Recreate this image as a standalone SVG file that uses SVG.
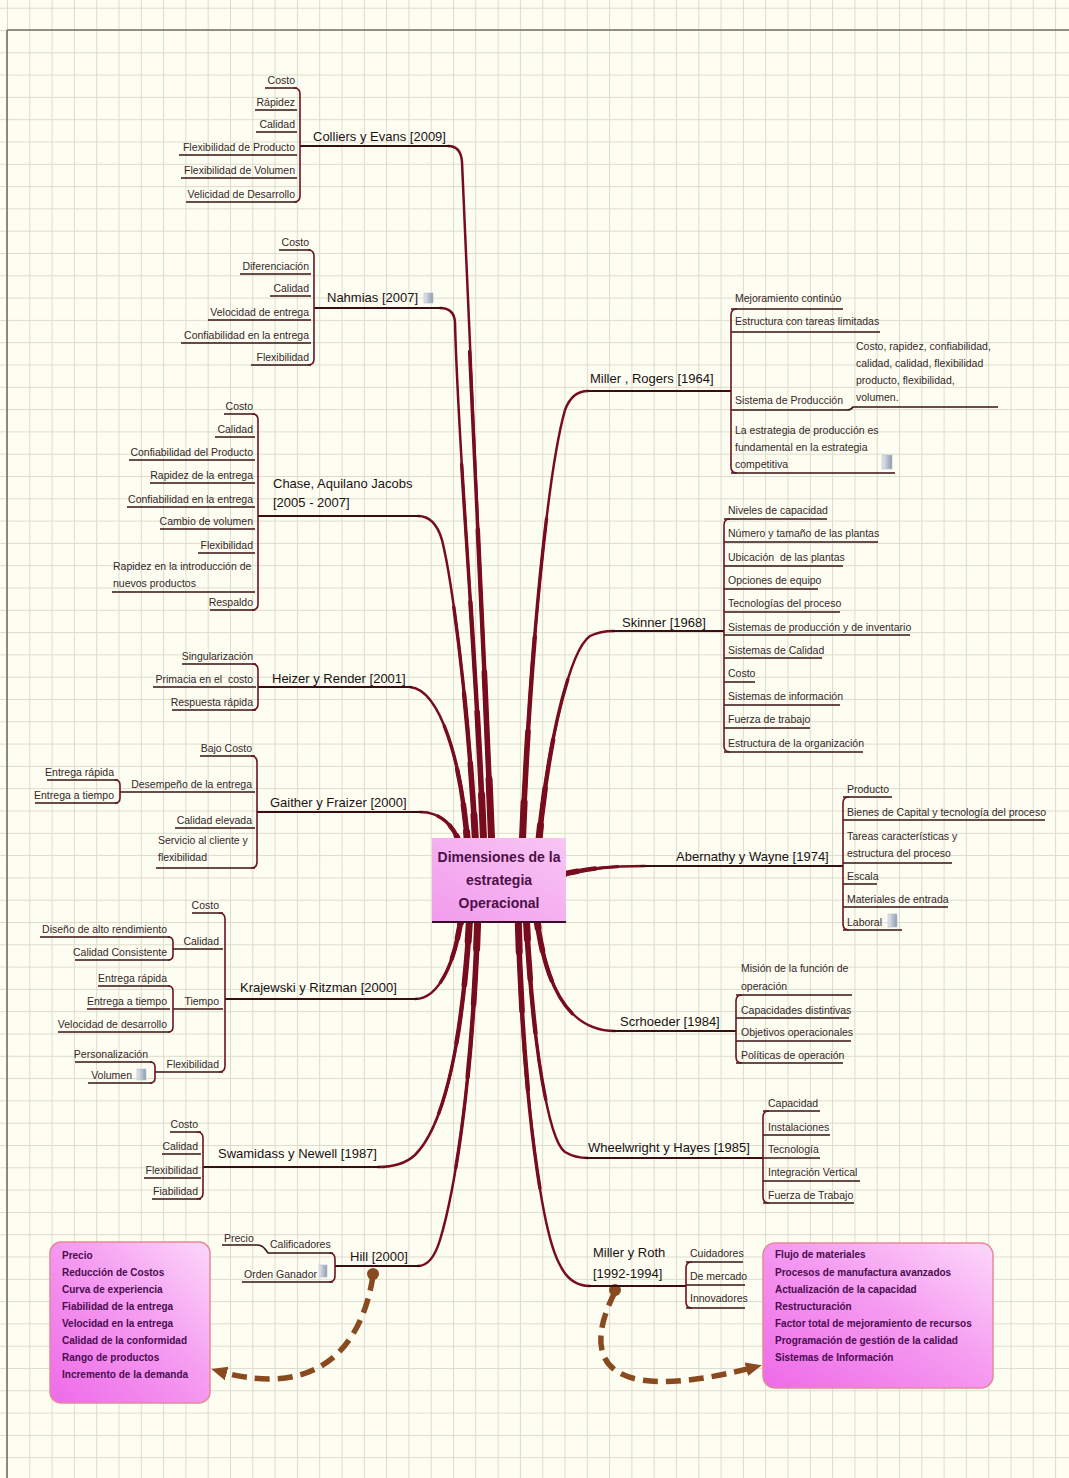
<svg xmlns="http://www.w3.org/2000/svg" width="1069" height="1478" viewBox="0 0 1069 1478">
  <defs>
    <pattern id="grid" width="22.3" height="22.3" patternUnits="userSpaceOnUse" x="7" y="30">
      <path d="M0 0.5 H22.3 M0.5 0 V22.3" fill="none" stroke="#dcdccd" stroke-width="1"/>
    </pattern>
    <linearGradient id="centerFill" x1="0" y1="1" x2="1" y2="0">
      <stop offset="0" stop-color="#f19bec"/>
      <stop offset="1" stop-color="#f8c6f4"/>
    </linearGradient>
    <linearGradient id="noteFill" x1="0" y1="1" x2="1" y2="0">
      <stop offset="0" stop-color="#ee6ae8"/>
      <stop offset="0.55" stop-color="#f59cf0"/>
      <stop offset="1" stop-color="#fcd8fa"/>
    </linearGradient>
    <linearGradient id="iconFill" x1="0" y1="0" x2="1" y2="0">
      <stop offset="0" stop-color="#e4e8f0"/>
      <stop offset="1" stop-color="#8f9bb0"/>
    </linearGradient>
    <marker id="arrow" markerUnits="userSpaceOnUse" markerWidth="16" markerHeight="16" viewBox="0 0 16 16" refX="9" refY="8" orient="auto">
      <path d="M0 1 L16 8 L0 15 Z" fill="#8a4a1f"/>
    </marker>
    <!-- main branches, each drawn from the central topic outwards; pathLength lets the taper scale per branch -->
    <path id="b1" pathLength="100" d="M492 850 C482 600 466 300 462 162 Q461 146 448 146"/>
    <path id="b2" pathLength="100" d="M484 850 C476 650 458 450 455 322 Q454 308 440 308"/>
    <path id="b3" pathLength="100" d="M476 850 C468 700 452 580 442 540 Q435 516 418 516"/>
    <path id="b4" pathLength="100" d="M468 850 C462 760 440 690 410 687"/>
    <path id="b5" pathLength="100" d="M462 850 C455 825 440 812 420 812"/>
    <path id="b6" pathLength="100" d="M522 850 C530 650 548 470 565 410 Q572 391 588 391"/>
    <path id="b7" pathLength="100" d="M538 850 C548 740 570 650 590 636 Q600 631 614 631"/>
    <path id="b8" pathLength="100" d="M555 876 C590 868 610 866 645 866"/>
    <path id="b9" pathLength="100" d="M462 912 C456 960 440 999 415 999"/>
    <path id="b10" pathLength="100" d="M470 912 C462 1060 440 1130 415 1155 Q402 1167 378 1167"/>
    <path id="b11" pathLength="100" d="M478 912 C472 1100 452 1200 440 1240 Q432 1266 418 1266"/>
    <path id="b12" pathLength="100" d="M536 912 C545 990 570 1031 615 1031"/>
    <path id="b13" pathLength="100" d="M526 912 C532 1040 548 1140 565 1152 Q575 1158 588 1158"/>
    <path id="b14" pathLength="100" d="M518 912 C522 1080 540 1230 560 1265 Q570 1286 590 1286"/>
  </defs>
  <style>
    /* a tapered branch = the same path stroked five times, wider strokes covering shorter stretches */
    .br { fill: none; stroke: #780b1e; stroke-linecap: round; }
    .w1 { stroke-width: 2.5; }
    .w2 { stroke-width: 3.4; stroke-dasharray: 70 1000; }
    .w3 { stroke-width: 4.4; stroke-dasharray: 45 1000; }
    .w4 { stroke-width: 5.6; stroke-dasharray: 25 1000; }
    .w5 { stroke-width: 7; stroke-dasharray: 10 1000; }
    .ul { fill: none; stroke: #3a1216; stroke-width: 1.6; }
    .tul { fill: none; stroke: #3a0d14; stroke-width: 2; }
    .bk { fill: none; stroke: #6c1322; stroke-width: 1.6; }
    .t { font-family: "Liberation Sans", Arial, sans-serif; font-size: 10.5px; fill: #352828; }
    .e { text-anchor: end; }
    .tp { font-family: "Liberation Sans", Arial, sans-serif; font-size: 13px; fill: #1a1212; }
    .nb { font-family: "Liberation Sans", Arial, sans-serif; font-size: 10px; font-weight: bold; fill: #4a0c50; }
    .tc { font-family: "Liberation Sans", Arial, sans-serif; font-size: 14px; font-weight: bold; fill: #4d0f48; text-anchor: middle; }
    .icon { fill: url(#iconFill); stroke: #b8c0cc; stroke-width: 0.6; }
    .note { fill: url(#noteFill); stroke: #e58a96; stroke-width: 1.5; }
    .rel { fill: none; stroke: #8a4a1f; stroke-width: 5.5; stroke-dasharray: 15 8; marker-end: url(#arrow); }
  </style>

  <!-- paper with grid -->
  <rect width="1069" height="1478" fill="#fdfdf2"/>
  <rect width="1069" height="1478" fill="url(#grid)"/>
  <path d="M7 30 H1069 M7 30 V1478" fill="none" stroke="#6f7268" stroke-width="1.6"/>

  <!-- connectors -->
  <g id="connectors">
    <g class="br w1"><use href="#b1"/><use href="#b2"/><use href="#b3"/><use href="#b4"/><use href="#b5"/><use href="#b6"/><use href="#b7"/><use href="#b8"/><use href="#b9"/><use href="#b10"/><use href="#b11"/><use href="#b12"/><use href="#b13"/><use href="#b14"/></g>
    <g class="br w2"><use href="#b1"/><use href="#b2"/><use href="#b3"/><use href="#b4"/><use href="#b5"/><use href="#b6"/><use href="#b7"/><use href="#b8"/><use href="#b9"/><use href="#b10"/><use href="#b11"/><use href="#b12"/><use href="#b13"/><use href="#b14"/></g>
    <g class="br w3"><use href="#b1"/><use href="#b2"/><use href="#b3"/><use href="#b4"/><use href="#b5"/><use href="#b6"/><use href="#b7"/><use href="#b8"/><use href="#b9"/><use href="#b10"/><use href="#b11"/><use href="#b12"/><use href="#b13"/><use href="#b14"/></g>
    <g class="br w4"><use href="#b1"/><use href="#b2"/><use href="#b3"/><use href="#b4"/><use href="#b5"/><use href="#b6"/><use href="#b7"/><use href="#b8"/><use href="#b9"/><use href="#b10"/><use href="#b11"/><use href="#b12"/><use href="#b13"/><use href="#b14"/></g>
    <g class="br w5"><use href="#b1"/><use href="#b2"/><use href="#b3"/><use href="#b4"/><use href="#b5"/><use href="#b6"/><use href="#b7"/><use href="#b8"/><use href="#b9"/><use href="#b10"/><use href="#b11"/><use href="#b12"/><use href="#b13"/><use href="#b14"/></g>
    <!-- dashed relationships to the note boxes -->
    <path class="rel" d="M373 1276 C362 1345 320 1400 218 1371"/>
    <path class="rel" d="M615 1292 C585 1350 590 1410 755 1367"/>
    <circle cx="373" cy="1274" r="6" fill="#8a4a1f"/>
    <circle cx="615" cy="1290" r="6" fill="#8a4a1f"/>
  </g>

  <!-- central topic -->
  <g id="central">
    <rect x="432" y="838" width="134" height="84" fill="url(#centerFill)"/>
    <path d="M432 922 H566" stroke="#3a0c28" stroke-width="2"/>
    <text class="tc" x="499" y="862">Dimensiones de la</text>
    <text class="tc" x="499" y="885">estrategia</text>
    <text class="tc" x="499" y="908">Operacional</text>
  </g>

  <!-- left side -->
  <g id="colliers">
    <text class="tp" x="313" y="141">Colliers y Evans [2009]</text>
    <path class="tul" d="M300 146 H450"/>
    <text class="t e" x="295" y="84">Costo</text>
    <text class="t e" x="295" y="106">Rápidez</text>
    <text class="t e" x="295" y="128">Calidad</text>
    <text class="t e" x="295" y="151">Flexibilidad de Producto</text>
    <text class="t e" x="295" y="174">Flexibilidad de Volumen</text>
    <text class="t e" x="295" y="198">Velicidad de Desarrollo</text>
    <path class="ul" d="M265 88 H297 M255 110 H297 M256 132 H297 M179 155 H297 M181 178 H297 M186 202 H297"/>
    <path class="bk" d="M294 88 Q300 88 300 94 V196 Q300 202 294 202"/>
  </g>

  <g id="nahmias">
    <text class="tp" x="327" y="302">Nahmias [2007]</text>
    <rect class="icon" x="424" y="293" width="9" height="10"/>
    <path class="tul" d="M314 308 H442"/>
    <text class="t e" x="309" y="246">Costo</text>
    <text class="t e" x="309" y="270">Diferenciación</text>
    <text class="t e" x="309" y="292">Calidad</text>
    <text class="t e" x="309" y="316">Velocidad de entrega</text>
    <text class="t e" x="309" y="339">Confiabilidad en la entrega</text>
    <text class="t e" x="309" y="361">Flexibilidad</text>
    <path class="ul" d="M279 250 H311 M240 274 H311 M270 296 H311 M208 320 H311 M181 343 H311 M251 365 H311"/>
    <path class="bk" d="M308 250 Q314 250 314 256 V359 Q314 365 308 365"/>
  </g>

  <g id="chase">
    <text class="tp" x="273" y="488">Chase, Aquilano Jacobs</text>
    <text class="tp" x="273" y="507">[2005 - 2007]</text>
    <path class="tul" d="M258 516 H420"/>
    <text class="t e" x="253" y="410">Costo</text>
    <text class="t e" x="253" y="433">Calidad</text>
    <text class="t e" x="253" y="456">Confiabilidad del Producto</text>
    <text class="t e" x="253" y="479">Rapidez de la entrega</text>
    <text class="t e" x="253" y="503">Confiabilidad en la entrega</text>
    <text class="t e" x="253" y="525">Cambio de volumen</text>
    <text class="t e" x="253" y="549">Flexibilidad</text>
    <text class="t" x="113" y="570">Rapidez en la introducción de</text>
    <text class="t" x="113" y="587">nuevos productos</text>
    <text class="t e" x="253" y="606">Respaldo</text>
    <path class="ul" d="M224 414 H255 M215 437 H255 M129 460 H255 M150 483 H255 M127 507 H255 M160 529 H255 M198 553 H255 M112 592 H255 M210 610 H255"/>
    <path class="bk" d="M252 414 Q258 414 258 420 V604 Q258 610 252 610"/>
  </g>

  <g id="heizer">
    <text class="tp" x="272" y="683">Heizer y Render [2001]</text>
    <path class="tul" d="M258 687 H412"/>
    <text class="t e" x="253" y="660">Singularización</text>
    <text class="t e" x="253" y="683">Primacia en el&#160; costo</text>
    <text class="t e" x="253" y="706">Respuesta rápida</text>
    <path class="ul" d="M182 664 H256 M153 687 H256 M172 710 H256"/>
    <path class="bk" d="M252 664 Q258 664 258 670 V704 Q258 710 252 710"/>
  </g>

  <g id="gaither">
    <text class="tp" x="270" y="807">Gaither y Fraizer [2000]</text>
    <path class="tul" d="M257 812 H422"/>
    <text class="t e" x="252" y="752">Bajo Costo</text>
    <text class="t e" x="252" y="788">Desempeño de la entrega</text>
    <text class="t e" x="252" y="824">Calidad elevada</text>
    <text class="t" x="158" y="844">Servicio al cliente y</text>
    <text class="t" x="158" y="861">flexibilidad</text>
    <path class="ul" d="M200 756 H255 M120 792 H255 M175 828 H255 M156 868 H255"/>
    <path class="bk" d="M251 756 Q257 756 257 762 V862 Q257 868 251 868"/>
    <text class="t e" x="114" y="776">Entrega rápida</text>
    <text class="t e" x="114" y="799">Entrega a tiempo</text>
    <path class="ul" d="M47 780 H118 M35 803 H118"/>
    <path class="bk" d="M115 780 Q120 780 120 785 V798 Q120 803 115 803"/>
  </g>

  <g id="krajewski">
    <text class="tp" x="240" y="992">Krajewski y Ritzman [2000]</text>
    <path class="tul" d="M225 999 H418"/>
    <text class="t e" x="219" y="909">Costo</text>
    <text class="t e" x="219" y="945">Calidad</text>
    <text class="t e" x="219" y="1005">Tiempo</text>
    <text class="t e" x="219" y="1068">Flexibilidad</text>
    <path class="ul" d="M192 913 H223 M173 949 H223 M173 1009 H223 M155 1072 H223"/>
    <path class="bk" d="M219 913 Q225 913 225 919 V1066 Q225 1072 219 1072"/>
    <text class="t e" x="167" y="933">Diseño de alto rendimiento</text>
    <text class="t e" x="167" y="956">Calidad Consistente</text>
    <path class="ul" d="M40 937 H170 M75 960 H170"/>
    <path class="bk" d="M168 937 Q173 937 173 942 V955 Q173 960 168 960"/>
    <text class="t e" x="167" y="982">Entrega rápida</text>
    <text class="t e" x="167" y="1005">Entrega a tiempo</text>
    <text class="t e" x="167" y="1028">Velocidad de desarrollo</text>
    <path class="ul" d="M98 986 H170 M87 1009 H170 M58 1032 H170"/>
    <path class="bk" d="M168 986 Q173 986 173 991 V1027 Q173 1032 168 1032"/>
    <text class="t e" x="148" y="1058">Personalización</text>
    <text class="t e" x="132" y="1079">Volumen</text>
    <rect class="icon" x="137" y="1069" width="9" height="11"/>
    <path class="ul" d="M75 1062 H152 M88 1083 H152"/>
    <path class="bk" d="M150 1062 Q155 1062 155 1067 V1078 Q155 1083 150 1083"/>
  </g>

  <g id="swamidass">
    <text class="tp" x="218" y="1158">Swamidass y Newell [1987]</text>
    <path class="tul" d="M203 1167 H380"/>
    <text class="t e" x="198" y="1128">Costo</text>
    <text class="t e" x="198" y="1150">Calidad</text>
    <text class="t e" x="198" y="1174">Flexibilidad</text>
    <text class="t e" x="198" y="1195">Fiabilidad</text>
    <path class="ul" d="M170 1132 H201 M162 1154 H201 M144 1178 H201 M152 1199 H201"/>
    <path class="bk" d="M197 1132 Q203 1132 203 1138 V1193 Q203 1199 197 1199"/>
  </g>

  <g id="hill">
    <text class="tp" x="350" y="1261">Hill [2000]</text>
    <path class="tul" d="M335 1266 H420"/>
    <text class="t" x="224" y="1242">Precio</text>
    <text class="t" x="270" y="1248">Calificadores</text>
    <text class="t" x="244" y="1278">Orden Ganador</text>
    <rect class="icon" x="319" y="1265" width="8" height="12"/>
    <path class="ul" d="M222 1245 H257 Q262 1245 265 1249 L268 1253 H333 M242 1282 H333"/>
    <path class="bk" d="M329 1253 Q335 1253 335 1259 V1276 Q335 1282 329 1282"/>
  </g>

  <g id="hill-note">
    <rect class="note" x="50" y="1242" width="160" height="161" rx="11"/>
    <text class="nb" x="62" y="1259">Precio</text>
    <text class="nb" x="62" y="1276">Reducción de Costos</text>
    <text class="nb" x="62" y="1293">Curva de experiencia</text>
    <text class="nb" x="62" y="1310">Fiabilidad de la entrega</text>
    <text class="nb" x="62" y="1327">Velocidad en la entrega</text>
    <text class="nb" x="62" y="1344">Calidad de la conformidad</text>
    <text class="nb" x="62" y="1361">Rango de productos</text>
    <text class="nb" x="62" y="1378">Incremento de la demanda</text>
  </g>

  <!-- right side -->
  <g id="miller-rogers">
    <text class="tp" x="590" y="383">Miller , Rogers [1964]</text>
    <path class="tul" d="M588 391 H731"/>
    <text class="t" x="735" y="302">Mejoramiento continúo</text>
    <text class="t" x="735" y="325">Estructura con tareas limitadas</text>
    <text class="t" x="735" y="404">Sistema de Producción</text>
    <text class="t" x="856" y="350">Costo, rapidez, confiabilidad,</text>
    <text class="t" x="856" y="367">calidad, calidad, flexibilidad</text>
    <text class="t" x="856" y="384">producto, flexibilidad,</text>
    <text class="t" x="856" y="401">volumen.</text>
    <text class="t" x="735" y="434">La estrategia de producción es</text>
    <text class="t" x="735" y="451">fundamental en la estrategia</text>
    <text class="t" x="735" y="468">competitiva</text>
    <rect class="icon" x="882" y="455" width="10" height="14"/>
    <path class="ul" d="M731 309 H843 M731 332 H880 M731 410 H847 Q851 410 853 407 H998 M731 473 H895"/>
    <path class="bk" d="M737 309 Q731 309 731 315 V467 Q731 473 737 473"/>
  </g>

  <g id="skinner">
    <text class="tp" x="622" y="627">Skinner [1968]</text>
    <path class="tul" d="M612 631 H724"/>
    <text class="t" x="728" y="514">Niveles de capacidad</text>
    <text class="t" x="728" y="537">Número y tamaño de las plantas</text>
    <text class="t" x="728" y="561">Ubicación&#160; de las plantas</text>
    <text class="t" x="728" y="584">Opciones de equipo</text>
    <text class="t" x="728" y="607">Tecnologías del proceso</text>
    <text class="t" x="728" y="631">Sistemas de producción y de inventario</text>
    <text class="t" x="728" y="654">Sistemas de Calidad</text>
    <text class="t" x="728" y="677">Costo</text>
    <text class="t" x="728" y="700">Sistemas de información</text>
    <text class="t" x="728" y="723">Fuerza de trabajo</text>
    <text class="t" x="728" y="747">Estructura de la organización</text>
    <path class="ul" d="M724 519 H827 M724 542 H878 M724 566 H843 M724 589 H818 M724 612 H840 M724 635 H910 M724 658 H822 M724 682 H755 M724 705 H840 M724 728 H810 M724 752 H863"/>
    <path class="bk" d="M730 519 Q724 519 724 525 V746 Q724 752 730 752"/>
  </g>

  <g id="abernathy">
    <text class="tp" x="676" y="861">Abernathy y Wayne [1974]</text>
    <path class="tul" d="M640 866 H843"/>
    <text class="t" x="847" y="793">Producto</text>
    <text class="t" x="847" y="816">Bienes de Capital y tecnología del proceso</text>
    <text class="t" x="847" y="840">Tareas características y</text>
    <text class="t" x="847" y="857">estructura del proceso</text>
    <text class="t" x="847" y="880">Escala</text>
    <text class="t" x="847" y="903">Materiales de entrada</text>
    <text class="t" x="847" y="926">Laboral</text>
    <rect class="icon" x="888" y="914" width="9" height="13"/>
    <path class="ul" d="M843 797 H892 M843 820 H1045 M843 863 H952 M843 884 H877 M843 907 H948 M843 930 H902"/>
    <path class="bk" d="M849 797 Q843 797 843 803 V924 Q843 930 849 930"/>
  </g>

  <g id="scrhoeder">
    <text class="tp" x="620" y="1026">Scrhoeder [1984]</text>
    <path class="tul" d="M612 1031 H736"/>
    <text class="t" x="741" y="972">Misión de la función de</text>
    <text class="t" x="741" y="990">operación</text>
    <text class="t" x="741" y="1014">Capacidades distintivas</text>
    <text class="t" x="741" y="1036">Objetivos operacionales</text>
    <text class="t" x="741" y="1059">Políticas de operación</text>
    <path class="ul" d="M736 995 H852 M736 1018 H849 M736 1041 H851 M736 1063 H843"/>
    <path class="bk" d="M742 995 Q736 995 736 1001 V1057 Q736 1063 742 1063"/>
  </g>

  <g id="wheelwright">
    <text class="tp" x="588" y="1152">Wheelwright y Hayes [1985]</text>
    <path class="tul" d="M585 1158 H763"/>
    <text class="t" x="768" y="1107">Capacidad</text>
    <text class="t" x="768" y="1131">Instalaciones</text>
    <text class="t" x="768" y="1153">Tecnología</text>
    <text class="t" x="768" y="1176">Integración Vertical</text>
    <text class="t" x="768" y="1199">Fuerza de Trabajo</text>
    <path class="ul" d="M763 1111 H820 M763 1135 H830 M763 1158 H820 M763 1181 H860 M763 1203 H854"/>
    <path class="bk" d="M769 1111 Q763 1111 763 1117 V1197 Q763 1203 769 1203"/>
  </g>

  <g id="miller-roth">
    <text class="tp" x="593" y="1257">Miller y Roth</text>
    <text class="tp" x="593" y="1278">[1992-1994]</text>
    <path class="tul" d="M588 1286 H686"/>
    <text class="t" x="690" y="1257">Cuidadores</text>
    <text class="t" x="690" y="1280">De mercado</text>
    <text class="t" x="690" y="1302">Innovadores</text>
    <path class="ul" d="M686 1262 H743 M686 1285 H745 M686 1308 H745"/>
    <path class="bk" d="M692 1262 Q686 1262 686 1268 V1302 Q686 1308 692 1308"/>
  </g>

  <g id="miller-roth-note">
    <rect class="note" x="763" y="1243" width="230" height="145" rx="12"/>
    <text class="nb" x="775" y="1258">Flujo de materiales</text>
    <text class="nb" x="775" y="1276">Procesos de manufactura avanzados</text>
    <text class="nb" x="775" y="1293">Actualización de la capacidad</text>
    <text class="nb" x="775" y="1310">Restructuración</text>
    <text class="nb" x="775" y="1327">Factor total de mejoramiento de recursos</text>
    <text class="nb" x="775" y="1344">Programación de gestión de la calidad</text>
    <text class="nb" x="775" y="1361">Sistemas de Información</text>
  </g>
</svg>
